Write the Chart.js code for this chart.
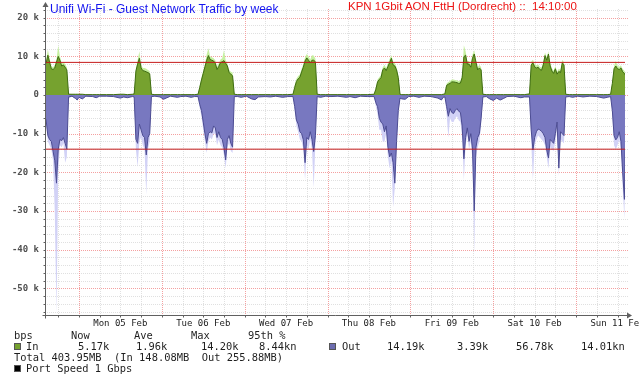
<!DOCTYPE html>
<html><head><meta charset="utf-8">
<script src="https://cdn.jsdelivr.net/npm/chart.js@4.4.1/dist/chart.umd.min.js"></script>
<style>
html,body{margin:0;padding:0;background:#fff;}
#wrap{position:relative;width:640px;height:380px;overflow:hidden;background:#fff;}
#c{position:absolute;left:0;top:0;}
#ov{position:absolute;left:0;top:0;}
#ov text{white-space:pre;}
</style></head><body>
<div id="wrap"><canvas id="c" width="640" height="380"></canvas>
<svg id="ov" width="640" height="380" xmlns="http://www.w3.org/2000/svg"></svg></div>
<script>
// ---- DATA (hours since Sun 04 Feb 00:00, values in k bits/s) ----
const xRange = [14.17, 182.17]; // Sun 04 Feb 14:10 -> Sun 11 Feb 14:10
const sampleHours = [
  14.0,14.5,15.0,15.5,16.0,16.5,17.0,17.5,18.0,18.5,19.0,19.5,20.0,20.5,21.0,
  22.0,23.0,23.5,24.0,25.0,26.0,28.0,29.0,30.0,32.0,34.0,36.0,37.0,38.0,39.5,
  40.0,40.5,41.0,41.5,42.0,42.5,43.0,43.5,44.0,44.5,45.0,
  46.0,47.5,48.5,49.5,50.5,52.5,53.5,55.0,56.5,57.5,58.5,
  59.0,59.5,60.0,60.5,61.0,61.5,62.0,62.5,63.0,63.5,64.0,64.5,65.0,65.5,66.0,66.5,67.0,67.5,68.0,68.5,69.0,
  70.0,71.0,72.5,74.0,75.0,76.0,78.0,79.5,81.0,83.0,84.5,86.0,
  86.5,87.0,87.5,88.0,88.5,89.0,89.5,90.0,90.5,91.0,91.5,92.0,92.5,93.0,
  94.0,95.5,97.0,99.0,101.5,102.5,104.0,105.5,107.5,109.5,
  110.0,110.5,111.0,111.5,112.0,112.5,113.0,113.5,114.0,114.5,115.0,115.5,116.0,116.5,117.0,
  117.5,118.5,119.5,121.0,122.5,124.0,126.0,128.0,129.0,129.5,130.0,
  130.5,131.0,131.5,132.0,132.5,133.0,133.5,134.0,134.5,135.0,135.5,136.0,136.5,137.0,137.5,138.0,138.5,139.0,139.5,140.0,140.5,141.0,
  142.0,143.0,144.0,145.0,146.0,147.0,148.0,150.0,152.0,153.0,154.5,
  155.0,155.5,156.0,156.5,157.0,157.5,158.0,158.5,159.0,159.5,160.0,160.5,161.0,161.5,162.0,162.5,163.0,163.5,164.0,164.5,165.0,
  166.0,167.0,168.5,170.0,172.0,174.0,176.0,177.0,178.0,
  178.5,179.0,179.5,180.0,180.5,181.0,181.5,182.0,182.2
];
const inAvg = [
  8.0,8.2,10.3,8.5,6.8,6.6,7.0,8.5,10.0,9.0,7.5,7.8,7.2,6.5,0.2,
  0.2,0.2,0.2,0.2,0.2,0.1,0.1,0.1,0.1,0.1,0.1,0.2,0.2,0.1,0.2,
  0.3,6.2,8.0,9.5,7.0,6.3,6.2,6.0,5.8,5.5,0.2,
  0.1,0.1,0.1,0.1,0.1,0.1,0.1,0.1,0.1,0.1,0.2,
  2.0,3.9,5.6,7.3,9.0,10.2,9.2,9.0,8.8,8.2,6.6,7.4,8.4,8.6,8.9,8.2,7.5,5.8,5.4,5.0,0.2,
  0.1,0.1,0.1,0.1,0.1,0.1,0.1,0.1,0.1,0.1,0.1,0.2,
  2.0,3.5,4.2,4.6,6.0,7.2,8.8,9.6,9.0,8.3,9.0,9.0,8.6,0.2,
  0.1,0.1,0.1,0.1,0.1,0.1,0.1,0.1,0.1,0.2,
  1.5,3.4,4.0,4.5,6.5,7.0,6.3,7.4,8.4,9.5,7.8,7.5,6.5,4.5,0.2,
  0.1,0.1,0.1,0.1,0.1,0.1,0.1,0.1,0.1,0.2,0.3,
  2.5,2.8,3.0,3.4,3.4,3.3,3.2,3.0,3.1,4.5,9.9,10.3,8.0,8.0,7.2,9.5,10.6,8.5,6.5,7.0,6.5,0.2,
  0.1,0.1,0.1,0.1,0.1,0.1,0.1,0.1,0.1,0.1,0.3,
  7.8,8.3,7.3,7.0,7.2,6.6,6.4,7.8,10.2,9.0,10.6,7.5,6.2,5.6,6.8,5.4,6.1,5.8,8.3,7.8,0.2,
  0.1,0.1,0.1,0.1,0.1,0.1,0.1,0.1,0.2,
  3.0,6.8,7.5,6.8,6.6,7.0,6.0,5.6,5.2
];
const outAvg = [
  -5.5,-6.5,-10.5,-11.5,-12.0,-14.5,-17.0,-22.8,-14.0,-11.5,-11.8,-11.0,-12.5,-14.0,-0.5,
  -0.3,-0.9,-1.3,-0.6,-1.0,-0.3,-0.4,-0.7,-0.3,-0.3,-0.4,-0.8,-0.5,-0.7,-0.4,
  -0.5,-11.5,-12.5,-7.5,-9.0,-10.5,-11.0,-15.5,-11.0,-10.0,-0.4,
  -0.3,-0.5,-1.1,-0.7,-0.3,-0.6,-0.4,-0.3,-0.6,-0.4,-0.4,
  -2.5,-4.0,-7.0,-10.0,-12.5,-10.0,-9.5,-9.8,-8.0,-8.5,-11.0,-9.5,-11.0,-11.5,-13.5,-16.8,-11.5,-10.5,-12.5,-13.5,-0.4,
  -0.4,-0.6,-0.3,-1.0,-1.2,-0.5,-0.4,-0.5,-0.3,-0.6,-0.4,-0.4,
  -3.0,-6.5,-7.5,-9.5,-10.0,-11.6,-17.5,-11.0,-11.5,-9.5,-11.5,-14.6,-10.5,-0.4,
  -0.6,-0.3,-0.4,-0.3,-0.6,-0.4,-0.7,-0.3,-0.4,-0.4,
  -2.0,-3.0,-6.0,-7.0,-7.5,-9.5,-8.0,-13.5,-16.0,-15.0,-17.5,-22.8,-12.0,-4.0,-0.8,
  -1.0,-1.1,-0.4,-0.3,-0.6,-0.3,-0.4,-0.8,-1.3,-0.6,-0.5,
  -3.0,-5.5,-3.5,-4.5,-4.8,-4.0,-3.5,-4.2,-4.5,-8.0,-16.5,-11.0,-8.5,-12.0,-10.0,-14.0,-30.0,-13.5,-11.0,-10.0,-6.0,-0.5,
  -0.4,-1.0,-1.4,-0.8,-1.3,-0.9,-0.4,-0.3,-0.7,-0.5,-0.5,
  -9.0,-14.2,-11.0,-9.5,-8.8,-9.0,-9.4,-10.0,-11.0,-14.2,-16.3,-11.5,-12.0,-12.5,-10.0,-7.0,-18.9,-9.5,-10.0,-10.5,-0.5,
  -0.4,-0.6,-0.3,-0.5,-0.3,-0.4,-0.8,-0.6,-0.4,
  -4.0,-10.5,-11.6,-11.0,-9.5,-12.0,-20.0,-27.0,-14.2
];
const inPeak = [
  8.5,9.0,11.8,9.5,7.5,7.2,7.8,9.2,12.8,10.0,8.2,8.5,8.0,7.2,0.4,
  0.2,0.2,0.2,0.2,0.2,0.1,0.1,0.1,0.1,0.1,0.1,0.2,0.2,0.1,0.2,
  0.4,7.0,9.0,11.3,7.8,7.0,7.0,6.8,6.5,6.2,0.3,
  0.1,0.1,0.1,0.1,0.1,0.1,0.1,0.1,0.1,0.1,0.2,
  2.5,4.5,6.3,8.0,10.5,12.1,10.0,9.8,9.5,9.0,7.4,8.2,9.2,9.5,11.6,9.0,8.2,6.5,6.0,5.8,0.3,
  0.1,0.1,0.1,0.1,0.1,0.1,0.1,0.1,0.1,0.1,0.1,0.2,
  2.6,4.2,4.9,5.3,6.8,8.0,9.8,10.6,10.0,9.2,10.3,10.2,9.4,0.3,
  0.1,0.1,0.1,0.1,0.1,0.1,0.1,0.1,0.1,0.2,
  2.0,4.0,4.6,5.2,7.2,7.8,7.0,8.2,9.3,10.3,8.6,8.3,7.2,5.2,0.3,
  0.1,0.1,0.1,0.1,0.1,0.1,0.1,0.1,0.1,0.2,0.3,
  3.0,3.4,3.6,4.0,4.0,3.9,3.8,3.6,3.7,5.2,12.9,11.3,8.8,8.8,8.0,10.5,11.6,9.3,7.2,7.8,7.2,0.3,
  0.1,0.1,0.1,0.1,0.1,0.1,0.1,0.1,0.1,0.1,0.3,
  8.6,9.1,8.0,7.7,7.9,7.3,7.1,8.6,11.0,9.8,11.3,8.3,6.9,6.3,7.5,6.0,6.8,6.5,9.1,8.5,0.3,
  0.1,0.1,0.1,0.1,0.1,0.1,0.1,0.1,0.2,
  3.6,7.6,8.8,7.6,7.3,7.7,6.7,6.3,5.9
];
const outPeak = [
  -7,-8,-12,-13,-14,-17,-30,-56.5,-20,-13,-13.5,-12.5,-17.5,-16,-1.0,
  -0.3,-0.9,-1.3,-0.6,-1.0,-0.3,-0.4,-0.7,-0.3,-0.3,-0.4,-0.8,-0.5,-0.7,-0.4,
  -0.6,-14,-18.6,-12,-11,-13,-14,-25.8,-14,-12,-0.5,
  -0.3,-0.5,-1.1,-0.7,-0.3,-0.6,-0.4,-0.3,-0.6,-0.4,-0.4,
  -3.5,-5.5,-9,-12,-15,-12,-11,-11.5,-10,-10,-13,-11.5,-13,-13.5,-15.5,-19,-13.5,-12.5,-14.5,-15,-0.5,
  -0.4,-0.6,-0.3,-1.0,-1.2,-0.5,-0.4,-0.5,-0.3,-0.6,-0.4,-0.4,
  -4,-8,-9.5,-11.5,-12,-14,-22,-13,-14,-11.5,-14,-24,-12.5,-0.5,
  -0.6,-0.3,-0.4,-0.3,-0.6,-0.4,-0.7,-0.3,-0.4,-0.4,
  -3,-5,-9,-9,-12,-12,-10,-16,-19,-17,-29,-24,-14,-5,-1.0,
  -1.0,-1.1,-0.4,-0.3,-0.6,-0.3,-0.4,-0.8,-1.3,-0.6,-0.5,
  -5,-11,-6,-7,-7,-6,-5.5,-6.5,-7,-11,-22,-13,-10.5,-14,-12,-17,-41,-16,-13.5,-12,-7.5,-0.6,
  -0.4,-1.0,-1.4,-0.8,-1.3,-0.9,-0.4,-0.3,-0.7,-0.5,-0.5,
  -12,-22,-13,-11.5,-10.5,-11,-11.5,-12,-13,-16,-19,-13.5,-14,-14.5,-12,-9,-21,-11.5,-12,-12.5,-0.6,
  -0.4,-0.6,-0.3,-0.5,-0.3,-0.4,-0.8,-0.6,-0.4,
  -5.5,-13,-14,-13,-11.5,-14,-24,-32,-16
];
const percentile95 = [8.44, -14.01];          // In, Out
const yLabelValues = [20, 10, 0, -10, -20, -30, -40, -50];
const dayNoonHours = [36, 60, 84, 108, 132, 156, 180];
const dayLabels = ['Mon 05 Feb','Tue 06 Feb','Wed 07 Feb','Thu 08 Feb','Fri 09 Feb','Sat 10 Feb','Sun 11 Feb'];
const legendHeader = ['bps','Now','Ave','Max','95th %'];
const inStats = ['5.17k','1.96k','14.20k','8.44kn'];
const outStats = ['14.19k','3.39k','56.78k','14.01kn'];
const totalLine = 'Total 403.95MB  (In 148.08MB  Out 255.88MB)';
const portSpeed = 'Port Speed 1 Gbps';
const titleLeft = 'Unifi Wi-Fi - Guest Network Traffic by week';
const titleRight = 'KPN 1Gbit AON FttH (Dordrecht) ::  14:10:00';

// ---- CHART ----
const pts = arr => sampleHours.map((h, i) => ({x: h, y: arr[i]}));
const hline = v => [{x: xRange[0], y: v}, {x: xRange[1], y: v}];

const rrdPlugin = {
  id: 'rrd',
  beforeDatasetsDraw(chart) {
    const {ctx, chartArea: a, scales: {x, y}} = chart;
    ctx.save();
    ctx.lineWidth = 1;
    ctx.setLineDash([1, 1]);
    for (const major of [false, true]) {
      ctx.strokeStyle = major ? '#f4a0a0' : '#e0e0e0';
      ctx.beginPath();
      for (const t of y.ticks) {
        const isMaj = Math.abs(t.value % 10) < 1e-6;
        if (isMaj !== major) continue;
        const py = Math.round(y.getPixelForValue(t.value)) + 0.5;
        ctx.moveTo(a.left, py); ctx.lineTo(a.right + 3, py);
      }
      for (const t of x.ticks) {
        const isMaj = t.value % 24 === 0;
        if (isMaj !== major) continue;
        const px = Math.round(x.getPixelForValue(t.value)) + 0.5;
        ctx.moveTo(px, a.top); ctx.lineTo(px, a.bottom);
      }
      ctx.stroke();
    }
    ctx.restore();
  },
  afterDatasetsDraw(chart) {
    const {ctx, chartArea: a, scales: {x, y}} = chart;
    ctx.save();
    ctx.setLineDash([]);
    ctx.lineWidth = 1;
    ctx.strokeStyle = '#606060';
    ctx.fillStyle = '#606060';
    const ax = Math.round(a.left) + 0.5, ay = Math.round(a.bottom) + 0.5;
    ctx.beginPath();
    ctx.moveTo(ax, ay + 3); ctx.lineTo(ax, a.top - 3);
    ctx.moveTo(ax - 3, ay); ctx.lineTo(a.right + 3, ay);
    for (const t of y.ticks) {
      const py = Math.round(y.getPixelForValue(t.value)) + 0.5;
      ctx.moveTo(ax - 2, py); ctx.lineTo(ax, py);
    }
    for (const t of x.ticks) {
      const px = Math.round(x.getPixelForValue(t.value)) + 0.5;
      ctx.moveTo(px, ay); ctx.lineTo(px, ay + 2);
    }
    ctx.stroke();
    ctx.beginPath();
    ctx.moveTo(ax - 3, a.top - 2); ctx.lineTo(ax + 3, a.top - 2); ctx.lineTo(ax, a.top - 7); ctx.closePath(); ctx.fill();
    ctx.beginPath();
    ctx.moveTo(a.right + 2, ay - 3); ctx.lineTo(a.right + 2, ay + 3); ctx.lineTo(a.right + 7, ay); ctx.closePath(); ctx.fill();
    ctx.restore();
  }
};

new Chart(document.getElementById('c'), {
  type: 'line',
  data: {
    datasets: [
      {label: '95th In', data: hline(percentile95[0]), borderColor: '#c41a1a', borderWidth: 1, pointRadius: 0, fill: false, order: 0},
      {label: '95th Out', data: hline(percentile95[1]), borderColor: '#c41a1a', borderWidth: 1, pointRadius: 0, fill: false, order: 0},
      {label: 'In', data: pts(inAvg), borderColor: '#3f6c12', backgroundColor: '#76a22f', borderWidth: 1, pointRadius: 0, fill: 'origin', order: 1},
      {label: 'Out', data: pts(outAvg), borderColor: '#4c4c92', backgroundColor: '#7878c0', borderWidth: 1, pointRadius: 0, fill: 'origin', order: 1},
      {label: 'In max', data: pts(inPeak), borderColor: 'rgba(0,0,0,0)', backgroundColor: '#c6f0a0', borderWidth: 0, pointRadius: 0, fill: 'origin', order: 2},
      {label: 'Out max', data: pts(outPeak), borderColor: 'rgba(0,0,0,0)', backgroundColor: '#d2d2f6', borderWidth: 0, pointRadius: 0, fill: 'origin', order: 2}
    ]
  },
  options: {
    responsive: false,
    devicePixelRatio: 1,
    animation: false,
    layout: {padding: {left: 0, right: 15, top: 9, bottom: 0}},
    elements: {line: {tension: 0}},
    plugins: {legend: {display: false}, tooltip: {enabled: false}, title: {display: false}},
    scales: {
      x: {
        type: 'linear', min: xRange[0], max: xRange[1],
        afterBuildTicks: s => { const t = []; for (let h = 18; h <= 180; h += 6) t.push({value: h}); s.ticks = t; },
        afterFit: s => { s.height = 65; s.paddingLeft = 0; s.paddingRight = 0; },
        grid: {display: false, drawTicks: false}, border: {display: false},
        ticks: {
          padding: 3, autoSkip: false, maxRotation: 0, minRotation: 0,
          font: {family: 'DejaVu Sans Mono', size: 9}, color: '#222',
          callback: v => { const i = dayNoonHours.indexOf(v); return i < 0 ? '' : dayLabels[i]; }
        }
      },
      y: {
        type: 'linear', min: -56.9, max: 22.25,
        afterBuildTicks: s => { const t = []; for (let v = -56; v <= 22; v += 2) t.push({value: v}); s.ticks = t; },
        afterFit: s => { s.width = 45; s.paddingTop = 0; s.paddingBottom = 0; },
        grid: {display: false, drawTicks: false}, border: {display: false},
        ticks: {
          padding: 6, autoSkip: false,
          font: {family: 'DejaVu Sans Mono', size: 9, weight: 'bold'}, color: '#505050',
          callback: v => yLabelValues.includes(v) ? (v === 0 ? '0' : v + ' k') : ''
        }
      }
    }
  },
  plugins: [rrdPlugin]
});

// ---- TITLES AND LEGEND (real text) ----
const svg = document.getElementById('ov');
const NS = 'http://www.w3.org/2000/svg';
function txt(x, y, s, size, fill, family) {
  const e = document.createElementNS(NS, 'text');
  e.setAttribute('x', x); e.setAttribute('y', y);
  e.setAttribute('font-size', size); e.setAttribute('fill', fill);
  e.setAttribute('font-family', family);
  e.setAttribute('xml:space', 'preserve');
  e.textContent = s; svg.appendChild(e);
}
function box(x, y, w, h, fill) {
  const r = document.createElementNS(NS, 'rect');
  r.setAttribute('x', x); r.setAttribute('y', y); r.setAttribute('width', w); r.setAttribute('height', h);
  r.setAttribute('fill', fill); r.setAttribute('stroke', '#555'); r.setAttribute('stroke-width', '1');
  svg.appendChild(r);
}
const SANS = "'Liberation Sans', Arial, sans-serif";
const MONO = "'DejaVu Sans Mono', monospace";
txt(50, 12.7, titleLeft, 12, '#1414f0', SANS);
txt(348, 10.3, titleRight, 11.5, '#ec1414', SANS);
const LS = 10.4, LC = '#1e1e1e';
[14, 71, 134, 191, 248].forEach((x, i) => txt(x, 338.5, legendHeader[i], LS, LC, MONO));
box(14.5, 343.5, 6, 6, '#76a22f');
txt(26, 350, 'In', LS, LC, MONO);
[78, 136, 201, 259].forEach((x, i) => txt(x, 350, inStats[i], LS, LC, MONO));
box(329.5, 343.5, 6, 6, '#6d6db0');
txt(342, 350, 'Out', LS, LC, MONO);
[387, 457, 516, 581].forEach((x, i) => txt(x, 350, outStats[i], LS, LC, MONO));
txt(14, 361, totalLine, LS, LC, MONO);
box(14.5, 365.5, 6, 6, '#000');
txt(26, 372, portSpeed, LS, LC, MONO);
</script>
</body></html>
